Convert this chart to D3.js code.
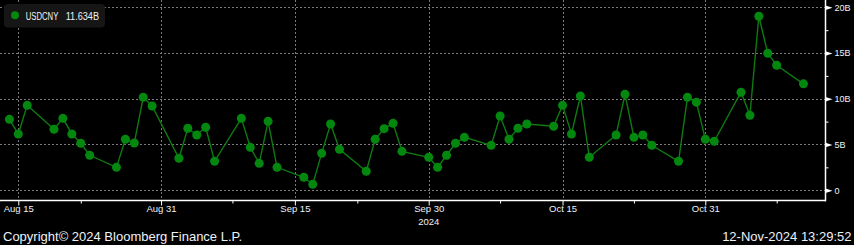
<!DOCTYPE html>
<html>
<head>
<meta charset="utf-8">
<script src="https://cdn.jsdelivr.net/npm/d3@7"></script>
<style>
	html, body { margin: 0; padding: 0; background: #000; overflow: hidden; }
	svg { display: block; }
	text { font-family: "Liberation Sans", Arial, sans-serif; }
</style>
</head>
<body>
<div id="chart"></div>
<script>
////////////////////////////////////////
// USDCNY daily volume, Bloomberg style
////////////////////////////////////////

// trading days (weekdays only, calendar spaced on the axis)
var dates = [
	"2024-08-14", "2024-08-15", "2024-08-16",
	"2024-08-19", "2024-08-20", "2024-08-21", "2024-08-22", "2024-08-23",
	"2024-08-26", "2024-08-27", "2024-08-28", "2024-08-29", "2024-08-30",
	"2024-09-02", "2024-09-03", "2024-09-04", "2024-09-05", "2024-09-06",
	"2024-09-09", "2024-09-10", "2024-09-11", "2024-09-12", "2024-09-13",
	"2024-09-16", "2024-09-17", "2024-09-18", "2024-09-19", "2024-09-20",
	"2024-09-23", "2024-09-24", "2024-09-25", "2024-09-26", "2024-09-27",
	"2024-09-30", "2024-10-01", "2024-10-02", "2024-10-03", "2024-10-04",
	"2024-10-07", "2024-10-08", "2024-10-09", "2024-10-10", "2024-10-11",
	"2024-10-14", "2024-10-15", "2024-10-16", "2024-10-17", "2024-10-18",
	"2024-10-21", "2024-10-22", "2024-10-23", "2024-10-24", "2024-10-25",
	"2024-10-28", "2024-10-29", "2024-10-30", "2024-10-31", "2024-11-01",
	"2024-11-04", "2024-11-05", "2024-11-06", "2024-11-07", "2024-11-08",
	"2024-11-11"
];

// volume in billions
var volumes = [
	7.75, 6.15, 9.28,
	6.66, 7.86, 6.15, 5.13, 3.82,
	2.50, 5.57, 5.16, 10.16, 9.21,
	3.49, 6.77, 6.04, 6.88, 3.16,
	7.86, 4.69, 2.94, 7.53, 2.50,
	1.41, 0.64, 4.03, 7.24, 4.47,
	2.07, 5.57, 6.73, 7.31, 4.25,
	3.60, 2.50, 3.82, 5.13, 5.78,
	4.91, 8.11, 5.57, 6.77, 7.24,
	6.99, 9.28, 6.15, 10.30, 3.60,
	6.04, 10.49, 5.78, 6.04, 4.91,
	3.16, 10.16, 9.63, 5.57, 5.35,
	10.71, 8.19, 19.02, 14.97, 13.66,
	11.634
];

var majorTickDates  = ["2024-08-15", "2024-08-31", "2024-09-15", "2024-09-30", "2024-10-15", "2024-10-31"];
var majorTickLabels = ["Aug 15", "Aug 31", "Sep 15", "Sep 30", "Oct 15", "Oct 31"];
var minorTickDates  = ["2024-08-22", "2024-09-08", "2024-09-22", "2024-10-08", "2024-10-23", "2024-11-08"];
var yearLabel = "2024";

var yMajorTicks  = [0, 5, 10, 15, 20];
var yTickLabels  = ["0", "5B", "10B", "15B", "20B"];
var yMinorTicks  = [2.5, 7.5, 12.5, 17.5];

var seriesName  = "USDCNY";
var lastValue   = "11.634B";
var copyright   = "Copyright\u00A9 2024 Bloomberg Finance L.P.";
var timestamp   = "12-Nov-2024 13:29:52";

////////////////////////////////////////

var width  = 854;
var height = 245;

var plotRight  = 825.5;
var plotBottom = 200.5;

var pointColor = "#03870f";
var lineColor  = "#0f7a12";
var gridColor  = "#7a7a7a";
var axisColor  = "#ffffff";
var textColor  = "#eef2f8";

var parse = d3.utcParse("%Y-%m-%d");

var data = dates.map(function(d, i) {
	return {date: parse(d), value: volumes[i]};
});

// scales: calendar days on x, volume on y
var x = d3.scaleUtc()
	.domain([parse("2024-08-15"), parse("2024-10-31")])
	.range([18.3, 705.3]);

var y = d3.scaleLinear()
	.domain([0, 20])
	.range([190.2, 7.3]);

var svg = d3.select("#chart").append("svg:svg")
	.attr("width", width)
	.attr("height", height)
	.style("background", "#000");

////////////////////////////////////////
// grid

var grid = svg.append("g").attr("class", "grid");

grid.selectAll("line.h")
	.data(yMajorTicks)
	.enter().append("line")
	.attr("class", "h")
	.attr("x1", 0)
	.attr("x2", plotRight)
	.attr("y1", function(d) { return Math.round(y(d)) + 0.5; })
	.attr("y2", function(d) { return Math.round(y(d)) + 0.5; })
	.attr("stroke", gridColor)
	.attr("stroke-width", 1)
	.attr("stroke-dasharray", "2,2");

grid.selectAll("line.v")
	.data(majorTickDates.map(parse))
	.enter().append("line")
	.attr("class", "v")
	.attr("x1", function(d) { return Math.round(x(d)) + 0.5; })
	.attr("x2", function(d) { return Math.round(x(d)) + 0.5; })
	.attr("y1", 0)
	.attr("y2", plotBottom)
	.attr("stroke", gridColor)
	.attr("stroke-width", 1)
	.attr("stroke-dasharray", "2,2");

////////////////////////////////////////
// series

var line = d3.line()
	.x(function(d) { return x(d.date); })
	.y(function(d) { return y(d.value); });

svg.append("path")
	.datum(data)
	.attr("d", line)
	.attr("fill", "none")
	.attr("stroke", lineColor)
	.attr("stroke-width", 1.4);

svg.selectAll("circle.pt")
	.data(data)
	.enter().append("circle")
	.attr("class", "pt")
	.attr("cx", function(d) { return x(d.date); })
	.attr("cy", function(d) { return y(d.value); })
	.attr("r", 4.5)
	.attr("fill", pointColor);

////////////////////////////////////////
// bottom axis

var xAxis = d3.axisBottom(x)
	.tickValues(majorTickDates.map(parse))
	.tickFormat(function(d, i) { return majorTickLabels[i]; })
	.tickSize(5)
	.tickPadding(0);

var gx = svg.append("g")
	.attr("transform", "translate(0," + plotBottom + ")")
	.call(xAxis);

gx.select(".domain").remove();
gx.selectAll(".tick line").attr("stroke", axisColor);
gx.selectAll(".tick text")
	.attr("fill", textColor)
	.style("font-size", "9.5px");

var xMinor = d3.axisBottom(x)
	.tickValues(minorTickDates.map(parse))
	.tickFormat("")
	.tickSize(3);

var gxm = svg.append("g")
	.attr("transform", "translate(0," + plotBottom + ")")
	.call(xMinor);
gxm.select(".domain").remove();
gxm.selectAll(".tick line").attr("stroke", axisColor);

svg.append("line")
	.attr("x1", 0)
	.attr("x2", plotRight + 0.5)
	.attr("y1", plotBottom)
	.attr("y2", plotBottom)
	.attr("stroke", axisColor)
	.attr("stroke-width", 1.5);

svg.append("text")
	.attr("x", x(parse("2024-09-30")))
	.attr("y", 224.5)
	.attr("text-anchor", "middle")
	.attr("fill", textColor)
	.style("font-size", "9.5px")
	.text(yearLabel);

////////////////////////////////////////
// right axis

var yAxis = d3.axisRight(y)
	.tickValues(yMajorTicks)
	.tickFormat(function(d, i) { return yTickLabels[i]; })
	.tickSize(0)
	.tickPadding(9);

var gy = svg.append("g")
	.attr("transform", "translate(" + plotRight + ",0)")
	.call(yAxis);

gy.select(".domain").remove();
gy.selectAll(".tick text")
	.attr("fill", textColor)
	.style("font-size", "9px");

// little arrow heads on the major ticks
gy.selectAll(".tick").append("path")
	.attr("d", "M0,-2.2L7,0L0,2.2Z")
	.attr("fill", axisColor);

var yMinor = d3.axisRight(y)
	.tickValues(yMinorTicks)
	.tickFormat("")
	.tickSize(3);

var gym = svg.append("g")
	.attr("transform", "translate(" + plotRight + ",0)")
	.call(yMinor);
gym.select(".domain").remove();
gym.selectAll(".tick line").attr("stroke", axisColor);

svg.append("line")
	.attr("x1", plotRight)
	.attr("x2", plotRight)
	.attr("y1", 0)
	.attr("y2", plotBottom + 0.75)
	.attr("stroke", axisColor)
	.attr("stroke-width", 1.5);

////////////////////////////////////////
// legend

var legend = svg.append("g");

legend.append("rect")
	.attr("x", 4)
	.attr("y", 4)
	.attr("width", 101)
	.attr("height", 23.5)
	.attr("rx", 4)
	.attr("fill", "#161616");

legend.append("circle")
	.attr("cx", 15)
	.attr("cy", 15.3)
	.attr("r", 4)
	.attr("fill", pointColor);

// the terminal font is narrow, squeeze to the same widths
legend.append("text")
	.attr("x", 25.7)
	.attr("y", 19.8)
	.attr("fill", textColor)
	.attr("textLength", 32.6)
	.attr("lengthAdjust", "spacingAndGlyphs")
	.style("font-size", "10px")
	.text(seriesName);

legend.append("text")
	.attr("x", 65.7)
	.attr("y", 19.8)
	.attr("fill", textColor)
	.attr("textLength", 33.3)
	.attr("lengthAdjust", "spacingAndGlyphs")
	.style("font-size", "10px")
	.text(lastValue);

////////////////////////////////////////
// footer

svg.append("text")
	.attr("x", 3)
	.attr("y", 240.5)
	.attr("fill", textColor)
	.style("font-size", "13px")
	.text(copyright);

svg.append("text")
	.attr("x", 851.5)
	.attr("y", 240.5)
	.attr("text-anchor", "end")
	.attr("fill", textColor)
	.style("font-size", "13px")
	.text(timestamp);
</script>
</body>
</html>
